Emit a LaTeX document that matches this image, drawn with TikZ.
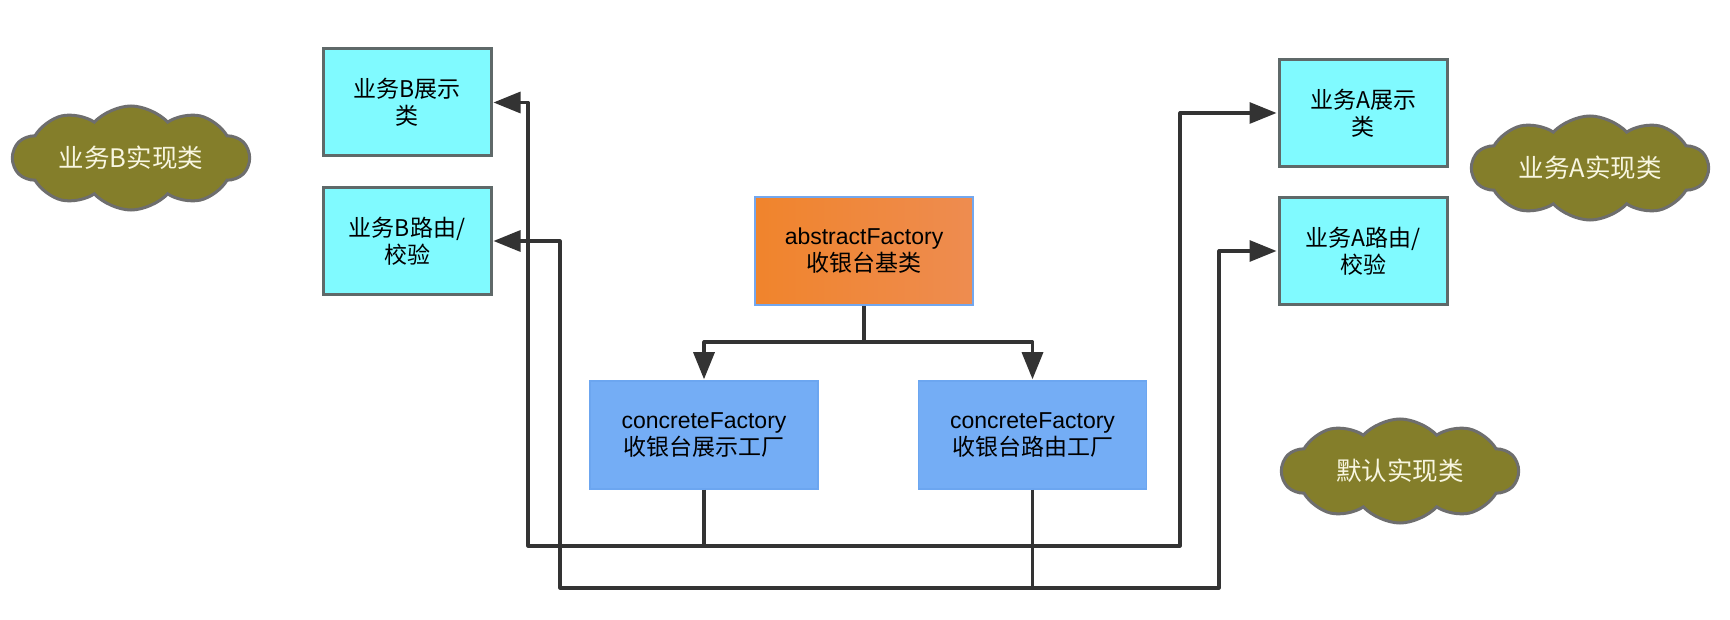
\documentclass[tikz,border=0pt]{standalone}
\usepackage{fontspec}
\setmainfont{Liberation Sans}
\newfontfamily\cjk{Noto Sans CJK SC}
\usetikzlibrary{shapes.symbols,arrows.meta}
\definecolor{cyanfill}{RGB}{128,250,255}
\definecolor{cyanline}{RGB}{95,105,105}
\definecolor{orangeL}{RGB}{240,132,44}
\definecolor{orangeR}{RGB}{238,140,80}
\definecolor{orangeline}{RGB}{115,167,238}
\definecolor{bluefill}{RGB}{116,173,245}
\definecolor{blueline}{RGB}{108,166,240}
\definecolor{olive}{RGB}{132,126,42}
\definecolor{cloudline}{RGB}{110,110,110}
\definecolor{cloudtext}{RGB}{248,246,224}
\definecolor{wire}{RGB}{51,51,51}
\tikzset{
  txt/.style={font=\cjk\fontsize{23}{27}\selectfont, align=center, inner sep=0pt},
  bizbox/.style={txt, draw=cyanline, line width=3pt, fill=cyanfill,
    minimum width=168pt, minimum height=107pt},
  absbox/.style={txt, draw=orangeline, line width=2pt, left color=orangeL, right color=orangeR,
    minimum width=218pt, minimum height=108pt},
  facbox/.style={txt, draw=blueline, line width=1.5pt, fill=bluefill,
    minimum width=228pt, minimum height=108pt},
  impl/.style={cloud, cloud puffs=10, cloud puff arc=95, cloud ignores aspect,
    draw=cloudline, line width=3pt, fill=olive, text=cloudtext, inner sep=0pt,
    font=\cjk\fontsize{25.5}{30}\selectfont, minimum width=236pt, minimum height=104pt},
  arr/.style={draw=wire, line width=3.2pt, line join=round,
    -{Triangle[length=27pt,width=21pt]}, shorten >=1pt},
  wireline/.style={draw=wire, line width=3.2pt, line join=round},
}
\begin{document}
\begin{tikzpicture}[x=1pt,y=-1pt]
\useasboundingbox (0,0) rectangle (1730,620);
\fill[white] (0,0) rectangle (1730,620);

\node[bizbox] (bshow) at (407,102.5) {业务B展示\\类};
\node[bizbox] (broute) at (407,241) {业务B路由/\\校验};
\node[bizbox] (ashow) at (1363,113) {业务A展示\\类};
\node[bizbox] (aroute) at (1363,251) {业务A路由/\\校验};

\node[absbox] (abs) at (864,251) {{\fontspec{Liberation Sans}abstractFactory}\\收银台基类};
\node[facbox] (c1) at (704,435) {{\fontspec{Liberation Sans}concreteFactory}\\收银台展示工厂};
\node[facbox] (c2) at (1032.5,435) {{\fontspec{Liberation Sans}concreteFactory}\\收银台路由工厂};

\node[impl] (cb) at (131,158) {业务B实现类};
\node[impl] (ca) at (1590,168) {业务A实现类};
\node[impl] (cd) at (1400,471) {默认实现类};

\coordinate (j) at (864,342);
\draw[wireline] (abs.south) -- (j);
\draw[arr] (j) -| (c1.north);
\draw[arr] (j) -| (c2.north);

\coordinate (l1) at (528,546);
\coordinate (r1) at (1180,546);
\coordinate (l2) at (560,588);
\coordinate (r2) at (1219,588);
\draw[arr] (c1.south) |- (l1) |- (bshow.east);
\draw[arr] (c1.south) |- (r1) |- (ashow.west);
\draw[arr] (c2.south) |- (l2) |- (broute.east);
\draw[arr] (c2.south) |- (r2) |- (aroute.west);
\end{tikzpicture}
\end{document}
